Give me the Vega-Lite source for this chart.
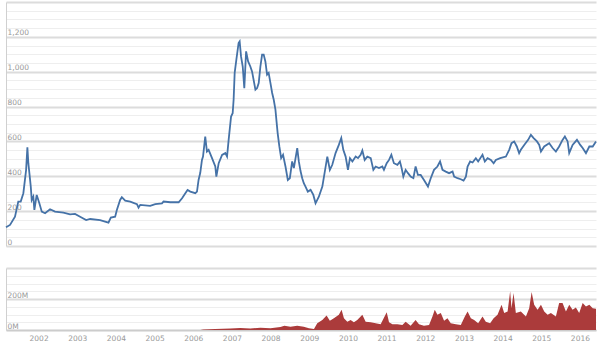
{
  "$schema": "https://vega.github.io/schema/vega-lite/v6.json",
  "padding": {"left": 2, "right": 4, "top": 2, "bottom": 0},
  "spacing": 22,
  "config": {
    "view": {"stroke": null},
    "axis": {"labelFont": "DejaVu Sans", "labelFontSize": 7.5, "labelColor": "#999999", "title": null}
  },
  "datasets": {
    "price": [
      {"d": "2001-02-27", "p": 107}, {"d": "2001-04-06", "p": 121}, {"d": "2001-05-23", "p": 168},
      {"d": "2001-06-23", "p": 255}, {"d": "2001-07-16", "p": 255}, {"d": "2001-08-10", "p": 303},
      {"d": "2001-09-05", "p": 437}, {"d": "2001-09-17", "p": 567}, {"d": "2001-09-26", "p": 475},
      {"d": "2001-10-06", "p": 418}, {"d": "2001-10-19", "p": 341}, {"d": "2001-10-28", "p": 264},
      {"d": "2001-11-12", "p": 283}, {"d": "2001-11-22", "p": 207}, {"d": "2001-12-14", "p": 293},
      {"d": "2002-01-08", "p": 245}, {"d": "2002-01-31", "p": 197}, {"d": "2002-03-03", "p": 188},
      {"d": "2002-04-19", "p": 211}, {"d": "2002-06-05", "p": 197}, {"d": "2002-08-23", "p": 191},
      {"d": "2002-10-25", "p": 182}, {"d": "2002-12-11", "p": 184}, {"d": "2003-01-28", "p": 168},
      {"d": "2003-03-26", "p": 149}, {"d": "2003-05-03", "p": 155}, {"d": "2003-08-05", "p": 149},
      {"d": "2003-10-23", "p": 134}, {"d": "2003-11-14", "p": 163}, {"d": "2003-12-25", "p": 168},
      {"d": "2004-01-10", "p": 207}, {"d": "2004-02-10", "p": 264}, {"d": "2004-02-26", "p": 280},
      {"d": "2004-03-29", "p": 260}, {"d": "2004-05-15", "p": 255}, {"d": "2004-07-18", "p": 240},
      {"d": "2004-08-02", "p": 220}, {"d": "2004-08-18", "p": 236}, {"d": "2004-11-20", "p": 230},
      {"d": "2005-01-07", "p": 240}, {"d": "2005-03-11", "p": 245}, {"d": "2005-03-26", "p": 255},
      {"d": "2005-05-29", "p": 251}, {"d": "2005-08-16", "p": 251}, {"d": "2005-09-17", "p": 274},
      {"d": "2005-10-18", "p": 303}, {"d": "2005-11-08", "p": 322}, {"d": "2005-12-04", "p": 312},
      {"d": "2006-01-20", "p": 303}, {"d": "2006-02-05", "p": 312}, {"d": "2006-02-20", "p": 379},
      {"d": "2006-03-08", "p": 420}, {"d": "2006-03-24", "p": 494}, {"d": "2006-04-03", "p": 513},
      {"d": "2006-04-24", "p": 628}, {"d": "2006-05-10", "p": 542}, {"d": "2006-05-26", "p": 552},
      {"d": "2006-06-27", "p": 504}, {"d": "2006-07-28", "p": 456}, {"d": "2006-08-07", "p": 398},
      {"d": "2006-08-29", "p": 475}, {"d": "2006-09-30", "p": 523}, {"d": "2006-10-31", "p": 533},
      {"d": "2006-11-16", "p": 513}, {"d": "2006-12-01", "p": 609}, {"d": "2006-12-24", "p": 743},
      {"d": "2007-01-08", "p": 762}, {"d": "2007-01-17", "p": 839}, {"d": "2007-01-27", "p": 993},
      {"d": "2007-02-12", "p": 1069}, {"d": "2007-03-05", "p": 1165}, {"d": "2007-03-15", "p": 1174},
      {"d": "2007-03-28", "p": 1088}, {"d": "2007-04-13", "p": 1030}, {"d": "2007-04-28", "p": 906},
      {"d": "2007-05-15", "p": 1117}, {"d": "2007-06-03", "p": 1059}, {"d": "2007-06-24", "p": 1030},
      {"d": "2007-07-10", "p": 1002}, {"d": "2007-08-11", "p": 897}, {"d": "2007-08-27", "p": 906},
      {"d": "2007-09-11", "p": 935}, {"d": "2007-09-27", "p": 1030}, {"d": "2007-10-13", "p": 1098},
      {"d": "2007-10-28", "p": 1098}, {"d": "2007-11-13", "p": 1059}, {"d": "2007-11-29", "p": 983},
      {"d": "2007-12-14", "p": 993}, {"d": "2007-12-31", "p": 935}, {"d": "2008-01-16", "p": 878},
      {"d": "2008-01-31", "p": 839}, {"d": "2008-02-16", "p": 782}, {"d": "2008-02-25", "p": 724},
      {"d": "2008-03-08", "p": 648}, {"d": "2008-03-24", "p": 571}, {"d": "2008-04-10", "p": 504},
      {"d": "2008-04-28", "p": 523}, {"d": "2008-05-21", "p": 456}, {"d": "2008-06-12", "p": 379},
      {"d": "2008-07-01", "p": 389}, {"d": "2008-07-23", "p": 485}, {"d": "2008-08-08", "p": 447},
      {"d": "2008-09-09", "p": 562}, {"d": "2008-09-24", "p": 485}, {"d": "2008-10-10", "p": 430},
      {"d": "2008-10-26", "p": 389}, {"d": "2008-11-10", "p": 360}, {"d": "2008-11-26", "p": 341},
      {"d": "2008-12-18", "p": 312}, {"d": "2009-01-13", "p": 322}, {"d": "2009-02-08", "p": 293},
      {"d": "2009-03-01", "p": 245}, {"d": "2009-04-01", "p": 283}, {"d": "2009-05-04", "p": 341},
      {"d": "2009-05-25", "p": 418}, {"d": "2009-06-20", "p": 513}, {"d": "2009-07-14", "p": 437},
      {"d": "2009-08-06", "p": 466}, {"d": "2009-09-06", "p": 533}, {"d": "2009-10-07", "p": 580},
      {"d": "2009-10-30", "p": 619}, {"d": "2009-11-18", "p": 552}, {"d": "2009-12-10", "p": 513},
      {"d": "2010-01-01", "p": 437}, {"d": "2010-01-20", "p": 504}, {"d": "2010-02-12", "p": 485},
      {"d": "2010-03-15", "p": 513}, {"d": "2010-04-06", "p": 504}, {"d": "2010-05-01", "p": 523},
      {"d": "2010-05-17", "p": 548}, {"d": "2010-06-08", "p": 494}, {"d": "2010-07-03", "p": 513},
      {"d": "2010-08-04", "p": 504}, {"d": "2010-08-29", "p": 437}, {"d": "2010-09-20", "p": 456},
      {"d": "2010-10-21", "p": 447}, {"d": "2010-11-22", "p": 456}, {"d": "2010-12-07", "p": 437},
      {"d": "2011-01-02", "p": 475}, {"d": "2011-01-24", "p": 494}, {"d": "2011-02-15", "p": 523},
      {"d": "2011-03-11", "p": 475}, {"d": "2011-04-13", "p": 466}, {"d": "2011-05-07", "p": 485},
      {"d": "2011-05-23", "p": 447}, {"d": "2011-06-08", "p": 398}, {"d": "2011-06-30", "p": 437},
      {"d": "2011-07-22", "p": 418}, {"d": "2011-08-16", "p": 398}, {"d": "2011-09-11", "p": 389},
      {"d": "2011-10-02", "p": 456}, {"d": "2011-10-24", "p": 408}, {"d": "2011-11-19", "p": 408},
      {"d": "2011-12-20", "p": 379}, {"d": "2012-01-27", "p": 341}, {"d": "2012-02-22", "p": 389},
      {"d": "2012-03-24", "p": 437}, {"d": "2012-04-25", "p": 456}, {"d": "2012-05-20", "p": 485},
      {"d": "2012-06-12", "p": 437}, {"d": "2012-07-13", "p": 427}, {"d": "2012-08-13", "p": 418},
      {"d": "2012-09-15", "p": 427}, {"d": "2012-09-30", "p": 398}, {"d": "2012-11-01", "p": 389},
      {"d": "2012-12-02", "p": 383}, {"d": "2012-12-28", "p": 375}, {"d": "2013-01-19", "p": 398},
      {"d": "2013-02-04", "p": 456}, {"d": "2013-02-28", "p": 485}, {"d": "2013-03-23", "p": 479},
      {"d": "2013-04-23", "p": 504}, {"d": "2013-05-15", "p": 485}, {"d": "2013-06-25", "p": 523},
      {"d": "2013-07-17", "p": 485}, {"d": "2013-08-12", "p": 504}, {"d": "2013-09-12", "p": 494},
      {"d": "2013-10-08", "p": 475}, {"d": "2013-10-29", "p": 494}, {"d": "2013-12-09", "p": 504},
      {"d": "2014-02-01", "p": 513}, {"d": "2014-03-04", "p": 552}, {"d": "2014-03-26", "p": 590},
      {"d": "2014-04-20", "p": 600}, {"d": "2014-05-15", "p": 571}, {"d": "2014-06-06", "p": 533},
      {"d": "2014-06-22", "p": 552}, {"d": "2014-07-24", "p": 580}, {"d": "2014-08-30", "p": 609},
      {"d": "2014-09-25", "p": 638}, {"d": "2014-10-21", "p": 619}, {"d": "2014-11-21", "p": 600},
      {"d": "2014-12-13", "p": 580}, {"d": "2014-12-29", "p": 542}, {"d": "2015-01-29", "p": 571},
      {"d": "2015-03-17", "p": 590}, {"d": "2015-04-18", "p": 562}, {"d": "2015-05-19", "p": 542},
      {"d": "2015-06-19", "p": 571}, {"d": "2015-07-21", "p": 609}, {"d": "2015-08-12", "p": 628},
      {"d": "2015-09-07", "p": 600}, {"d": "2015-09-22", "p": 533}, {"d": "2015-10-24", "p": 580},
      {"d": "2015-12-04", "p": 609}, {"d": "2016-01-04", "p": 580}, {"d": "2016-01-27", "p": 562},
      {"d": "2016-02-27", "p": 533}, {"d": "2016-03-30", "p": 571}, {"d": "2016-05-01", "p": 571},
      {"d": "2016-06-01", "p": 600}
    ],
    "volume": [
      {"d": "2001-02-27", "v": 0}, {"d": "2006-03-08", "v": 0}, {"d": "2006-04-05", "v": 4000000},
      {"d": "2006-07-28", "v": 6000000}, {"d": "2006-12-17", "v": 10000000}, {"d": "2007-03-21", "v": 13000000},
      {"d": "2007-06-24", "v": 10000000}, {"d": "2007-09-27", "v": 15000000}, {"d": "2007-12-31", "v": 12000000},
      {"d": "2008-04-03", "v": 20000000}, {"d": "2008-05-11", "v": 28000000}, {"d": "2008-07-07", "v": 21000000},
      {"d": "2008-09-09", "v": 28000000}, {"d": "2008-11-10", "v": 21000000}, {"d": "2008-12-28", "v": 11000000},
      {"d": "2009-02-14", "v": 7000000}, {"d": "2009-03-17", "v": 43000000}, {"d": "2009-05-04", "v": 65000000},
      {"d": "2009-06-13", "v": 93000000}, {"d": "2009-07-14", "v": 59000000}, {"d": "2009-08-21", "v": 76000000},
      {"d": "2009-10-07", "v": 98000000}, {"d": "2009-11-02", "v": 130000000}, {"d": "2009-11-24", "v": 76000000},
      {"d": "2009-12-26", "v": 54000000}, {"d": "2010-01-26", "v": 65000000}, {"d": "2010-02-26", "v": 50000000},
      {"d": "2010-03-30", "v": 65000000}, {"d": "2010-05-17", "v": 98000000}, {"d": "2010-06-17", "v": 54000000},
      {"d": "2010-08-04", "v": 50000000}, {"d": "2010-09-20", "v": 43000000}, {"d": "2010-11-06", "v": 37000000},
      {"d": "2011-01-02", "v": 115000000}, {"d": "2011-01-24", "v": 50000000}, {"d": "2011-02-25", "v": 37000000},
      {"d": "2011-04-13", "v": 37000000}, {"d": "2011-05-30", "v": 33000000}, {"d": "2011-06-30", "v": 54000000},
      {"d": "2011-08-16", "v": 28000000}, {"d": "2011-10-02", "v": 65000000}, {"d": "2011-11-03", "v": 37000000},
      {"d": "2011-12-20", "v": 28000000}, {"d": "2012-02-06", "v": 33000000}, {"d": "2012-03-09", "v": 87000000},
      {"d": "2012-03-31", "v": 130000000}, {"d": "2012-04-25", "v": 98000000}, {"d": "2012-05-27", "v": 109000000},
      {"d": "2012-06-27", "v": 59000000}, {"d": "2012-07-29", "v": 76000000}, {"d": "2012-08-29", "v": 43000000},
      {"d": "2012-10-16", "v": 37000000}, {"d": "2012-12-02", "v": 33000000}, {"d": "2013-01-09", "v": 87000000},
      {"d": "2013-02-04", "v": 119000000}, {"d": "2013-03-07", "v": 76000000}, {"d": "2013-04-07", "v": 65000000},
      {"d": "2013-05-15", "v": 43000000}, {"d": "2013-06-25", "v": 87000000}, {"d": "2013-07-26", "v": 54000000},
      {"d": "2013-09-05", "v": 43000000}, {"d": "2013-10-08", "v": 76000000}, {"d": "2013-11-14", "v": 98000000},
      {"d": "2013-12-22", "v": 163000000}, {"d": "2014-01-16", "v": 109000000}, {"d": "2014-02-17", "v": 119000000},
      {"d": "2014-03-13", "v": 250000000}, {"d": "2014-03-26", "v": 141000000}, {"d": "2014-04-14", "v": 239000000},
      {"d": "2014-05-06", "v": 109000000}, {"d": "2014-06-22", "v": 119000000}, {"d": "2014-08-09", "v": 87000000},
      {"d": "2014-09-09", "v": 141000000}, {"d": "2014-10-02", "v": 245000000}, {"d": "2014-10-26", "v": 163000000},
      {"d": "2014-11-27", "v": 130000000}, {"d": "2014-12-29", "v": 163000000}, {"d": "2015-01-29", "v": 119000000},
      {"d": "2015-03-02", "v": 98000000}, {"d": "2015-04-02", "v": 109000000}, {"d": "2015-05-19", "v": 87000000},
      {"d": "2015-06-19", "v": 174000000}, {"d": "2015-07-21", "v": 174000000}, {"d": "2015-08-22", "v": 119000000},
      {"d": "2015-09-22", "v": 163000000}, {"d": "2015-10-24", "v": 130000000}, {"d": "2015-11-24", "v": 145000000},
      {"d": "2015-12-25", "v": 109000000}, {"d": "2016-01-27", "v": 174000000}, {"d": "2016-02-27", "v": 152000000},
      {"d": "2016-03-30", "v": 163000000}, {"d": "2016-05-01", "v": 141000000}, {"d": "2016-06-01", "v": 137000000}
    ]
  },
  "vconcat": [
    {
      "width": 590,
      "height": 244,
      "data": {"name": "price"},
      "encoding": {
        "x": {
          "field": "d", "type": "temporal",
          "scale": {"domain": [{"year": 2001, "month": 2, "date": 27}, {"year": 2016, "month": 6, "date": 1}]},
          "axis": null
        }
      },
      "layer": [
        {
          "mark": {"type": "line", "strokeOpacity": 0},
          "encoding": {
            "y": {
              "field": "p", "type": "quantitative",
              "scale": {"domain": [0, 1400], "nice": false},
              "axis": {
                "orient": "right",
                "values": [0, 50, 100, 150, 200, 250, 300, 350, 400, 450, 500, 550, 600, 650, 700, 750, 800, 850, 900, 950, 1000, 1050, 1100, 1150, 1200, 1250, 1300, 1350, 1400],
                "labels": false, "ticks": false, "domain": false, "grid": true,
                "gridColor": {"condition": {"test": "datum.value % 200 === 0", "value": "#dcdcdc"}, "value": "#eeeeee"},
                "gridWidth": {"condition": {"test": "datum.value % 200 === 0", "value": 2}, "value": 1}
              }
            }
          }
        },
        {
          "mark": {"type": "line", "color": "#4572a7", "strokeWidth": 1.8},
          "encoding": {
            "y": {
              "field": "p", "type": "quantitative",
              "axis": {
                "orient": "left",
                "values": [0, 200, 400, 600, 800, 1000, 1200],
                "format": ",d",
                "grid": false, "ticks": false, "tickSize": 0,
                "domain": true, "domainColor": "#d0d0d0",
                "labelAlign": "left", "labelPadding": -1, "labelBaseline": "alphabetic", "labelOffset": -2,
                "labelOverlap": false, "labelFlush": false
              }
            }
          }
        }
      ],
      "resolve": {"axis": {"y": "independent"}}
    },
    {
      "width": 590,
      "height": 62,
      "data": {"name": "volume"},
      "encoding": {
        "x": {
          "field": "d", "type": "temporal",
          "scale": {"domain": [{"year": 2001, "month": 2, "date": 27}, {"year": 2016, "month": 6, "date": 1}]},
          "axis": {
            "format": "%Y", "tickCount": "year", "ticks": false, "tickSize": 0, "grid": false,
            "domainColor": "#cccccc", "domainWidth": 1.5, "labelPadding": 4, "labelFlush": false, "labelOverlap": false
          }
        }
      },
      "layer": [
        {
          "mark": {"type": "area", "fillOpacity": 0},
          "encoding": {
            "y": {
              "field": "v", "type": "quantitative",
              "scale": {"domain": [0, 400000000], "nice": false},
              "axis": {
                "orient": "right",
                "values": [0, 50000000, 100000000, 150000000, 200000000, 250000000, 300000000, 350000000, 400000000],
                "labels": false, "ticks": false, "domain": false, "grid": true,
                "gridColor": {"condition": {"test": "datum.value % 200000000 === 0", "value": "#dcdcdc"}, "value": "#eeeeee"},
                "gridWidth": {"condition": {"test": "datum.value % 200000000 === 0", "value": 2}, "value": 1}
              }
            }
          }
        },
        {
          "mark": {"type": "area", "color": "#ab3b3b", "opacity": 1},
          "encoding": {
            "y": {
              "field": "v", "type": "quantitative",
              "axis": {
                "orient": "left",
                "values": [0, 200000000],
                "labelExpr": "(datum.value / 1000000) + 'M'",
                "grid": false, "ticks": false, "tickSize": 0,
                "domain": true, "domainColor": "#d0d0d0",
                "labelAlign": "left", "labelPadding": -1, "labelBaseline": "alphabetic", "labelOffset": -2,
                "labelOverlap": false, "labelFlush": false
              }
            }
          }
        }
      ],
      "resolve": {"axis": {"y": "independent"}}
    }
  ]
}
